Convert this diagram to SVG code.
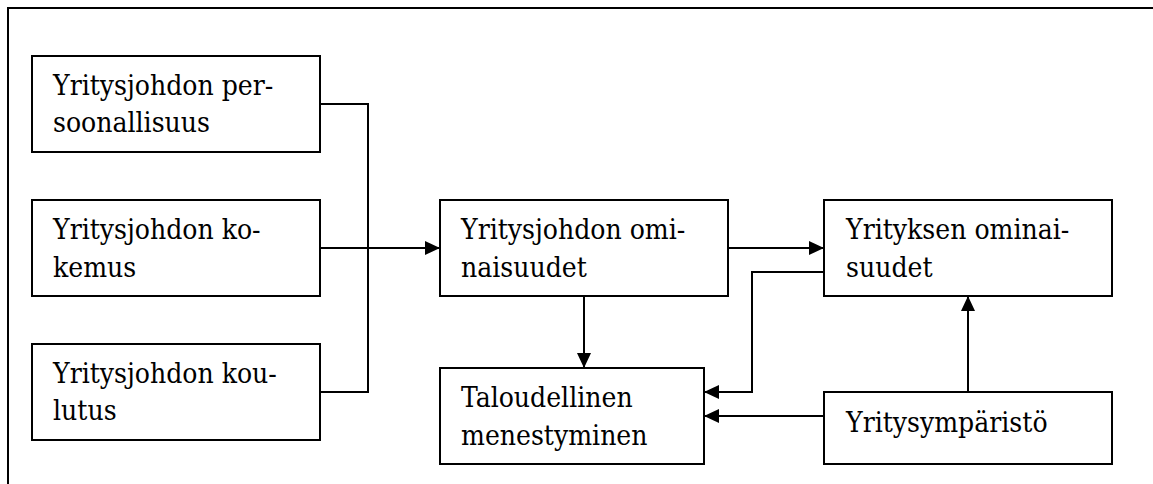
<svg xmlns="http://www.w3.org/2000/svg" width="1153" height="484" viewBox="0 0 1153 484">
  <style>
    .box { fill: #ffffff; stroke: #000000; stroke-width: 2; }
    .label { font-family: 'DejaVu Serif Condensed', 'DejaVu Serif', 'Liberation Serif', serif; font-stretch: condensed; font-size: 28px; fill: #000000; }
    .wire { fill: none; stroke: #000000; stroke-width: 2; }
  </style>
  <defs>
    <marker id="arrow" viewBox="0 0 15 14" refX="15" refY="7" markerWidth="15" markerHeight="14" markerUnits="userSpaceOnUse" orient="auto">
      <path d="M0,0 L15,7 L0,14 z" fill="#000000"/>
    </marker>
  </defs>

  <rect width="1153" height="484" fill="#ffffff"/>

  <!-- outer frame: only top and left edges fall inside the canvas -->
  <path class="wire" d="M8,484 L8,8 L1153,8"/>

  <g id="connectors">
    <!-- three management traits merge into one bus -->
    <path class="wire" d="M320,104 L368,104 L368,392 L320,392"/>
    <path class="wire" d="M320,248 L440,248" marker-end="url(#arrow)"/>
    <!-- management -> company characteristics -->
    <path class="wire" d="M728,248 L824,248" marker-end="url(#arrow)"/>
    <!-- management -> financial success -->
    <path class="wire" d="M584,296 L584,368" marker-end="url(#arrow)"/>
    <!-- company characteristics -> financial success -->
    <path class="wire" d="M824,272 L752,272 L752,392 L704,392" marker-end="url(#arrow)"/>
    <!-- environment -> financial success -->
    <path class="wire" d="M824,416 L704,416" marker-end="url(#arrow)"/>
    <!-- environment -> company characteristics -->
    <path class="wire" d="M968,392 L968,296" marker-end="url(#arrow)"/>
  </g>

  <g id="persoonallisuus">
    <rect class="box" x="32" y="56" width="288" height="96"/>
    <text class="label" x="53" y="95">Yritysjohdon per-</text>
    <text class="label" x="53" y="132">soonallisuus</text>
  </g>

  <g id="kokemus">
    <rect class="box" x="32" y="200" width="288" height="96"/>
    <text class="label" x="53" y="239">Yritysjohdon ko-</text>
    <text class="label" x="53" y="277">kemus</text>
  </g>

  <g id="koulutus">
    <rect class="box" x="32" y="344" width="288" height="96"/>
    <text class="label" x="53" y="383">Yritysjohdon kou-</text>
    <text class="label" x="53" y="420">lutus</text>
  </g>

  <g id="johdon-ominaisuudet">
    <rect class="box" x="440" y="200" width="288" height="96"/>
    <text class="label" x="461" y="239">Yritysjohdon omi-</text>
    <text class="label" x="461" y="277">naisuudet</text>
  </g>

  <g id="yrityksen-ominaisuudet">
    <rect class="box" x="824" y="200" width="288" height="96"/>
    <text class="label" x="846" y="239">Yrityksen ominai-</text>
    <text class="label" x="846" y="277">suudet</text>
  </g>

  <g id="menestyminen">
    <rect class="box" x="440" y="368" width="264" height="96"/>
    <text class="label" x="461" y="407">Taloudellinen</text>
    <text class="label" x="461" y="445">menestyminen</text>
  </g>

  <g id="yritysymparisto">
    <rect class="box" x="824" y="392" width="288" height="72"/>
    <text class="label" x="846" y="432">Yritysympäristö</text>
  </g>
</svg>
